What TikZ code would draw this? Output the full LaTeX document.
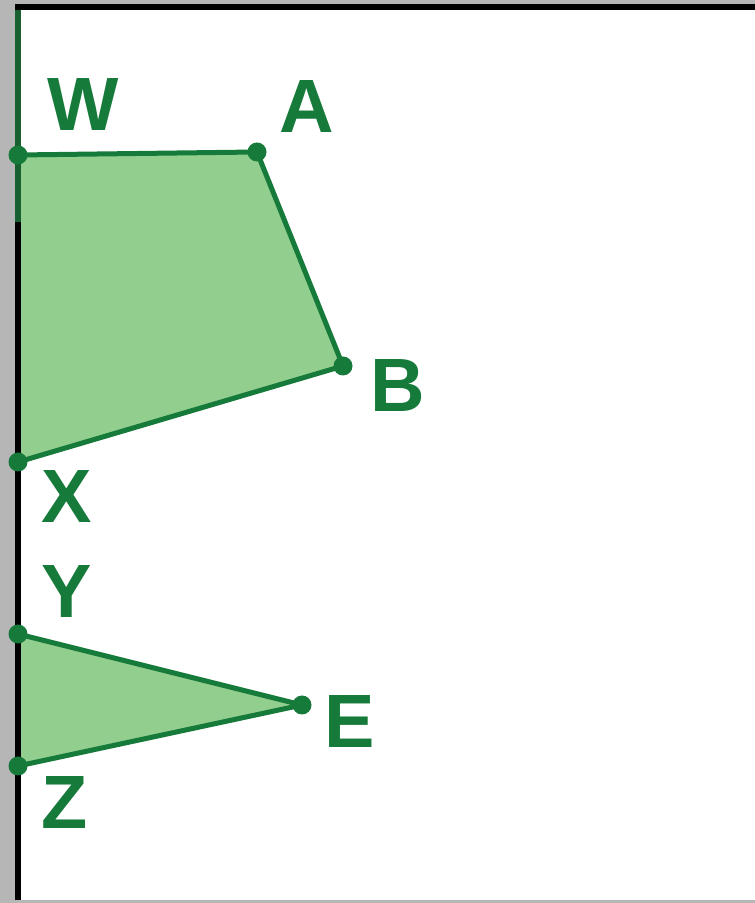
\documentclass[tikz,border=0pt]{standalone}
\usepackage{fontspec}
\setmainfont{Liberation Sans}
\usepackage{tikz}
\usetikzlibrary{positioning}

\definecolor{areafill}{RGB}{146,206,142}
\definecolor{arealine}{RGB}{22,122,58}
\definecolor{walltop}{RGB}{24,96,48}
\definecolor{frame}{RGB}{182,182,182}

\begin{document}
\begin{tikzpicture}[
		% style of the shaded areas
		area/.style={
			fill=areafill,
			draw=arealine,
			line width=0.1cm,
			line join=round
		},
		% style of the corner dots
		dot/.style={
			fill=arealine
		},
		% style of the letters
		lbl/.style={
			font=\fontsize{43}{43}\selectfont\bfseries,
			text=arealine,
			inner sep=0pt
		}
		]
		% --- FRAME ---
		\useasboundingbox (0,0) rectangle (15.1,18.06);
		\fill[frame] (0,0) rectangle (15.1,18.06);
		\fill[white] (0.36,0.06) rectangle (15.1,17.86);
		\draw[line width=0.12cm] (0.30,17.92) -- (15.1,17.92);
		
		% --- WALL ---
		\coordinate (top) at (0.36,17.86);
		\coordinate (mid) at (0.36,13.62);
		\coordinate (bot) at (0.36,0.06);
		\draw[line width=0.12cm, walltop] (top) -- (mid);
		\draw[line width=0.12cm, black] (mid) -- (bot);
		
		% --- POINTS ---
		\coordinate (W) at (0.36,14.96);
		\coordinate (A) at (5.14,15.02);
		\coordinate (B) at (6.86,10.74);
		\coordinate (X) at (0.36,8.82);
		\coordinate (Y) at (0.36,5.38);
		\coordinate (E) at (6.04,3.96);
		\coordinate (Z) at (0.36,2.74);
		
		% --- AREAS ---
		\filldraw[area] (X) -- (W) -- (A) -- (B) -- (X);
		\filldraw[area] (Z) -- (Y) -- (E) -- (Z);
		\draw[line width=0.12cm, walltop] (W) -- (mid);
		\draw[line width=0.12cm, black] (mid) -- (X);
		\draw[line width=0.12cm, black] (Y) -- (Z);
		
		\foreach \p in {W,A,B,X,Y,E,Z}
			\fill[dot] (\p) circle (0.19);
		
		% --- LABELS ---
		\node[lbl] (lW) at (1.66,15.96) {W};
		\node[lbl] (lA) at (6.14,15.92) {A};
		\node[lbl] (lB) at (7.96,10.34) {B};
		\node[lbl] (lX) at (1.34,8.12) {X};
		\node[lbl] (lY) at (1.34,6.22) {Y};
		\node[lbl] (lE) at (7.00,3.62) {E};
		\node[lbl] (lZ) at (1.30,2.00) {Z};
		
	\end{tikzpicture}
\end{document}
